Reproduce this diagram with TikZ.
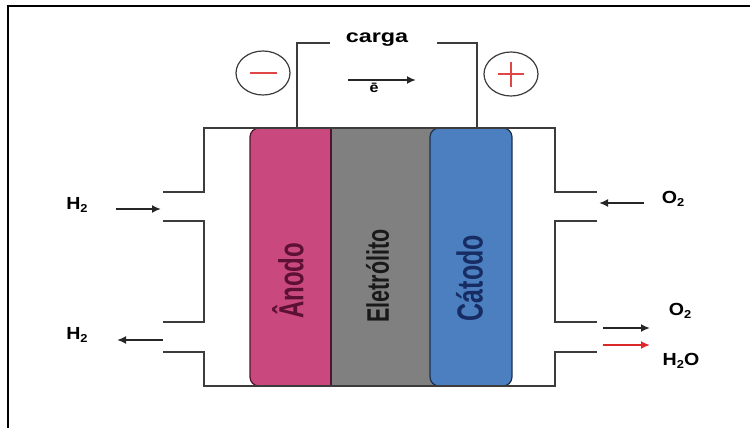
\documentclass[tikz,border=0pt]{standalone}
\usepackage{fontspec}
\usepackage{graphicx}
\setmainfont{Liberation Sans}
\usetikzlibrary{arrows.meta,shapes.geometric}
\definecolor{anodefill}{RGB}{201,72,125}
\definecolor{anodetext}{RGB}{92,16,52}
\definecolor{anodeedge}{RGB}{80,22,45}
\definecolor{elecfill}{RGB}{128,128,128}
\definecolor{electext}{RGB}{25,25,25}
\definecolor{cathfill}{RGB}{75,127,192}
\definecolor{cathtext}{RGB}{22,44,98}
\definecolor{cathedge}{RGB}{30,48,80}
\definecolor{linegray}{RGB}{60,60,60}
\definecolor{signred}{RGB}{225,70,70}
\definecolor{flowred}{RGB}{220,40,40}
\newcommand\mysub[1]{\raisebox{-0.35ex}{\fontsize{11.5}{12}\selectfont #1}}
\newcommand\sidelabel[1]{\scalebox{1.12}[1]{\fontsize{17.5}{20}\selectfont\bfseries #1}}
\begin{document}
\begin{tikzpicture}[x=1pt,y=-1pt,
  housing/.style={draw=linegray,line width=2.5pt},
  wire/.style={draw=linegray,line width=2.2pt},
  flow/.style={draw=black!85,line width=1.8pt,-{Latex[length=9pt,width=8pt]}},
  redflow/.style={flow,draw=flowred},
  sign/.style={draw=linegray,line width=1.2pt,ellipse,minimum width=54pt,minimum height=44pt,inner sep=0pt},
  lbl/.style={inner sep=0pt,anchor=center},
  vlabel/.style={rotate=90,inner sep=0pt,anchor=center}]
\useasboundingbox (0,0) rectangle (750,428);
% frame
\draw[line width=2.4pt,black] (750,6) -- (8,6) -- (8,428);

% layers
\fill[elecfill] (320,128) rectangle (445,386);
\filldraw[fill=anodefill,draw=anodeedge,line width=1.2pt,rounded corners=9pt]
  (331,128) -- (250,128) -- (250,386) -- (331,386);
\draw[draw=anodeedge,line width=1.2pt] (331,128) -- (331,386);
\filldraw[fill=cathfill,draw=cathedge,line width=1.2pt,rounded corners=9pt]
  (430,128) rectangle (512,386);

\node[vlabel] (anode) at (288,281) {\scalebox{1}[1.45]{\fontsize{24}{28}\selectfont\bfseries\color{anodetext}Ânodo}};
\node[vlabel] (elec) at (377.5,276) {\scalebox{1}[1.45]{\fontsize{21.5}{26}\selectfont\bfseries\color{electext}Eletrólito}};
\node[vlabel] (cath) at (469.5,278) {\scalebox{1}[1.45]{\fontsize{25}{30}\selectfont\bfseries\color{cathtext}Cátodo}};

% housing
\draw[housing] (163,192) -- (204,192) -- (204,128) -- (555,128) -- (555,192) -- (597,192);
\draw[housing] (163,221) -- (204,221) -- (204,322) -- (163,322);
\draw[housing] (163,352) -- (204,352) -- (204,386) -- (555,386) -- (555,352) -- (597,352);
\draw[housing] (597,221) -- (555,221) -- (555,322) -- (597,322);

% external circuit
\node[lbl] (carga) at (377,40) {\scalebox{1.3}[1]{\fontsize{18}{21}\selectfont\bfseries carga}};
\coordinate (wl) at (297,128);
\coordinate (wr) at (477,128);
\draw[wire] (wl) |- (330,43);
\draw[wire] (437,43) -| (wr);

\node[sign] (minus) at (263,73) {};
\node[sign] (plus) at (511,74) {};
\draw[signred,line width=1.3pt] (250,73) -- (277,73);
\draw[signred,line width=1.3pt] (498,74) -- (524,74) (511,62) -- (511,87);

\coordinate (es) at (348,80);
\coordinate (ee) at (416,80);
\draw[flow] (es) -- (ee);
\node[lbl] (eminus) at (374,88) {\scalebox{1.15}[1]{\fontsize{14}{16}\selectfont\bfseries ē}};

% gas flows
\node[lbl] (h2in) at (77,205) {\sidelabel{H\mysub{2}}};
\coordinate (h2a) at (116,209);
\coordinate (h2b) at (161,209);
\draw[flow] (h2a) -- (h2b);

\node[lbl] (h2out) at (77,335) {\sidelabel{H\mysub{2}}};
\coordinate (h2c) at (163,340);
\coordinate (h2d) at (117,340);
\draw[flow] (h2c) -- (h2d);

\node[lbl] (o2in) at (673,199) {\sidelabel{O\mysub{2}}};
\coordinate (o2a) at (644,203);
\coordinate (o2b) at (599,203);
\draw[flow] (o2a) -- (o2b);

\node[lbl] (o2out) at (680,311) {\sidelabel{O\mysub{2}}};
\coordinate (o2c) at (603,328);
\coordinate (o2d) at (650,328);
\draw[flow] (o2c) -- (o2d);

\node[lbl] (h2o) at (681,361) {\sidelabel{H\mysub{2}O}};
\coordinate (wa) at (603,345);
\coordinate (wb) at (650,345);
\draw[redflow] (wa) -- (wb);
\end{tikzpicture}
\end{document}
